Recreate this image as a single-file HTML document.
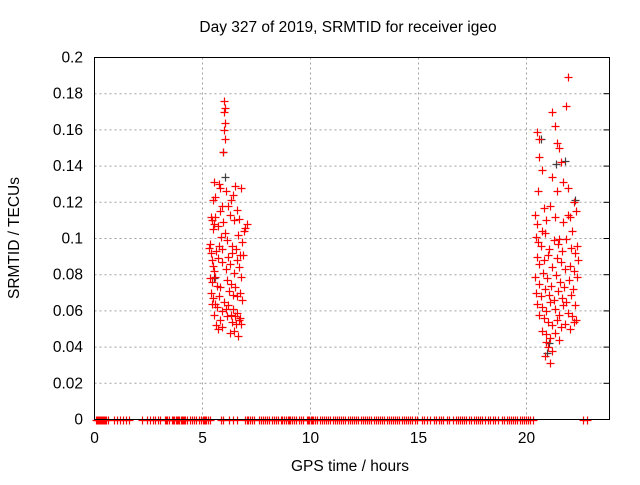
<!DOCTYPE html>
<html><head><meta charset="utf-8"><style>
body{margin:0;background:#fff}
svg text{font-family:"Liberation Sans",sans-serif;font-size:15.5px;fill:#000}
</style></head><body>
<svg id="chart" width="640" height="480">
<text x="348" y="32" text-anchor="middle">Day 327 of 2019, SRMTID for receiver igeo</text>
<text x="350" y="471" text-anchor="middle">GPS time / hours</text>
<text transform="translate(19,238) rotate(-90)" text-anchor="middle">SRMTID / TECUs</text>
<g id="grid"></g><g id="ticks"></g><g id="marks"></g>
<rect x="94.5" y="57.5" width="515" height="362" fill="none" stroke="#000"/>
</svg>
<script>
const xTicks=[0,5,10,15,20];
const yTicks=[0,0.02,0.04,0.06,0.08,0.1,0.12,0.14,0.16,0.18,0.2];
const yTickLabels=["0","0.02","0.04","0.06","0.08","0.1","0.12","0.14","0.16","0.18","0.2"];
const zeroTimes=[0.05,0.1,0.15,0.2,0.25,0.3,0.35,0.4,0.45,0.5,0.55,0.62,0.92,1.05,1.2,1.3,1.45,1.6,2.22,2.45,2.58,2.7,2.82,2.95,3.05,3.25,3.3,3.35,3.45,3.6,3.65,3.7,3.75,3.8,3.85,3.9,4.0,4.05,4.1,4.15,4.2,4.3,4.4,4.5,4.6,4.7,4.85,4.95,5.0,5.05,5.1,5.15,5.25,5.35,5.85,5.95,6.22,6.4,6.58,6.98,7.05,7.1,7.2,7.3,7.4,7.6,7.7,7.8,7.9,8.0,8.1,8.2,8.3,8.4,8.5,8.65,8.7,8.75,8.85,8.95,9.0,9.05,9.15,9.25,9.35,9.45,9.55,9.65,9.82,9.87,9.92,10.02,10.07,10.12,10.22,10.32,10.42,10.52,10.62,10.72,10.82,10.92,11.02,11.12,11.22,11.32,11.42,11.52,11.62,11.72,11.82,11.92,12.02,12.12,12.22,12.32,12.42,12.52,12.62,12.72,12.82,12.92,13.02,13.12,13.22,13.32,13.42,13.52,13.62,13.72,13.82,13.92,14.02,14.12,14.22,14.32,14.42,14.52,14.62,14.72,14.82,14.92,15.15,15.25,15.4,15.55,15.7,15.82,15.95,16.05,16.15,16.3,16.4,16.62,16.72,16.82,16.92,17.02,17.12,17.22,17.35,17.45,17.55,17.65,17.75,17.85,17.95,18.1,18.2,18.3,18.45,18.55,18.7,18.88,18.98,19.08,19.18,19.28,19.38,19.48,19.58,19.68,19.78,19.88,19.98,20.08,20.18,20.3,22.62,22.82];
const redT=[6.0,6.02,5.98,6.03,6.01,6.05,5.97,5.55,5.5,5.4,5.35,5.3,5.6,5.75,5.8,5.9,6.1,6.2,6.3,6.4,6.5,6.6,6.7,6.8,6.9,7.05,5.45,5.5,5.55,5.6,5.7,5.8,5.85,5.95,6.05,6.15,6.25,6.35,6.45,6.55,6.65,6.75,6.85,6.95,5.4,5.45,5.5,5.62,5.72,5.78,5.88,5.92,6.08,6.18,6.28,6.38,6.48,6.58,6.68,6.78,6.88,5.35,5.42,5.52,5.58,5.68,5.82,6.12,6.22,6.32,6.42,6.52,6.62,6.72,6.82,5.38,5.48,5.58,5.65,5.75,5.9,6.0,6.1,6.2,6.3,6.4,6.5,6.6,6.7,6.8,5.42,5.52,5.62,5.7,5.8,5.9,6.15,6.25,6.35,6.45,6.55,6.65,6.75,
20.5,20.6,21.9,21.85,21.4,21.2,21.3,21.6,20.6,20.55,20.7,21.5,21.7,21.2,20.8,21.4,21.9,22.2,22.0,20.4,20.5,20.7,20.9,21.1,21.3,21.5,21.7,21.9,22.1,22.3,20.45,20.55,20.65,20.85,21.05,21.25,21.45,21.65,21.85,22.05,22.25,22.35,20.5,20.6,20.8,21.0,21.2,21.4,21.6,21.8,22.0,22.2,22.4,20.4,20.6,20.75,20.95,21.15,21.35,21.55,21.75,21.95,22.15,22.35,20.45,20.65,20.85,21.05,21.25,21.45,21.65,21.85,22.05,22.25,20.5,20.7,20.9,21.1,21.3,21.5,21.7,21.9,22.1,22.3,20.6,20.8,21.0,21.2,21.4,21.6,21.8,22.0,22.2,20.7,20.9,21.1,21.3,21.5,20.9,21.0,21.2,20.85,21.1];
const redV=[0.176,0.172,0.170,0.164,0.160,0.155,0.148,0.131,0.121,0.112,0.097,0.095,0.123,0.130,0.128,0.118,0.126,0.118,0.121,0.124,0.129,0.116,0.111,0.128,0.104,0.108,0.110,0.105,0.108,0.112,0.107,0.115,0.101,0.109,0.103,0.099,0.113,0.096,0.110,0.094,0.102,0.091,0.098,0.106,0.092,0.088,0.085,0.093,0.089,0.096,0.087,0.094,0.083,0.090,0.086,0.092,0.081,0.088,0.084,0.079,0.091,0.078,0.076,0.082,0.079,0.074,0.073,0.077,0.071,0.075,0.069,0.073,0.068,0.070,0.066,0.070,0.067,0.064,0.062,0.068,0.060,0.065,0.061,0.063,0.058,0.061,0.057,0.059,0.055,0.053,0.064,0.058,0.052,0.050,0.055,0.051,0.057,0.048,0.054,0.049,0.053,0.046,0.056,
0.159,0.155,0.189,0.173,0.153,0.170,0.162,0.142,0.145,0.126,0.138,0.150,0.131,0.134,0.117,0.126,0.128,0.120,0.112,0.113,0.108,0.104,0.110,0.118,0.112,0.100,0.109,0.113,0.104,0.115,0.101,0.098,0.096,0.103,0.094,0.099,0.097,0.093,0.100,0.095,0.092,0.096,0.090,0.086,0.088,0.091,0.084,0.089,0.087,0.083,0.085,0.082,0.088,0.079,0.075,0.081,0.078,0.074,0.080,0.076,0.073,0.077,0.072,0.079,0.070,0.068,0.072,0.069,0.066,0.071,0.067,0.065,0.069,0.063,0.064,0.062,0.060,0.065,0.061,0.058,0.063,0.059,0.057,0.055,0.058,0.056,0.054,0.052,0.055,0.051,0.053,0.050,0.054,0.049,0.047,0.045,0.048,0.044,0.043,0.040,0.038,0.035,0.031,0.036];
const grayT=[5.97,6.03,5.55,21.35,21.78,22.25,20.65,21.05,20.95];
const grayV=[0.148,0.134,0.078,0.141,0.143,0.121,0.155,0.042,0.037];
const NS="http://www.w3.org/2000/svg";
const x=h=>94.5+h*21.6, y=v=>419.5-v*1810;
const grid=document.getElementById('grid'),ticks=document.getElementById('ticks'),marks=document.getElementById('marks');
function mk(tag,at,parent){const e=document.createElementNS(NS,tag);for(const k in at)e.setAttribute(k,at[k]);parent.appendChild(e);return e;}
xTicks.forEach(t=>{
 const g=mk('line',{x1:x(t),x2:x(t),y1:57.5,y2:419.5,stroke:'#a0a0a0','stroke-dasharray':'2,3'},grid);
 
 
 const l=mk('text',{x:x(t),y:443,'text-anchor':'middle'},ticks);l.textContent=t;
 
 
});
yTicks.forEach((t,i)=>{
 const g=mk('line',{x1:94.5,x2:609.5,y1:y(t),y2:y(t),stroke:'#a0a0a0','stroke-dasharray':'2,3'},grid);
 
 
 mk('line',{x1:603.5,x2:609.5,y1:y(t),y2:y(t),stroke:'#000'},ticks);
 const l=mk('text',{x:83,y:y(t)+5,'text-anchor':'end'},ticks);l.textContent=yTickLabels[i];
 
 
});
function plus(h,v,c,name){
 const px=Math.round(x(h))+0.5,py=Math.round(y(v))+0.5;
 const p=mk('path',{d:`M${px-4},${py}h8M${px},${py-4}v8`,stroke:c,'stroke-width':1.2,fill:'none'},marks);
 
 
}
zeroTimes.forEach(t=>plus(t,0,'#ff0000','zero-point'));
grayT.forEach((t,i)=>plus(t,grayV[i],'#404040','gray-point'));
redT.forEach((t,i)=>plus(t,redV[i],'#ff0000','srmtid-point'));
</script>
</body></html>
